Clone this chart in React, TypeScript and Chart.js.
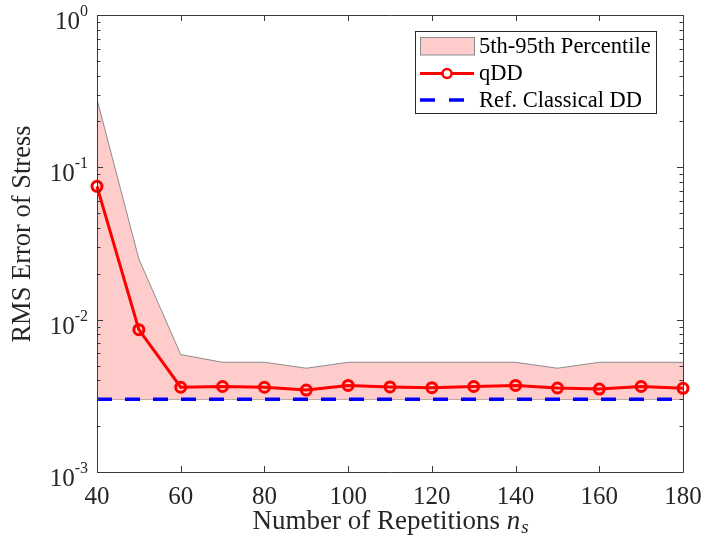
import React, { useEffect, useRef } from "react";
import { Chart, registerables } from "chart.js";

Chart.register(...registerables);

const reps = [40, 50, 60, 70, 80, 90, 100, 110, 120, 130, 140, 150, 160, 170, 180];
const qdd = [0.075, 0.0086, 0.0036, 0.00364, 0.0036, 0.00345, 0.0037, 0.00362, 0.00358, 0.00364, 0.0037, 0.00356, 0.0035, 0.00364, 0.00354];
const p95 = [0.28, 0.025, 0.0059, 0.00525, 0.00525, 0.0048, 0.00525, 0.00525, 0.00525, 0.00525, 0.00525, 0.0048, 0.00525, 0.00525, 0.00525];
const p5 = [0.003, 0.003, 0.003, 0.003, 0.003, 0.003, 0.003, 0.003, 0.003, 0.003, 0.003, 0.003, 0.003, 0.003, 0.003];
const refDD = [0.003, 0.003, 0.003, 0.003, 0.003, 0.003, 0.003, 0.003, 0.003, 0.003, 0.003, 0.003, 0.003, 0.003, 0.003];

const xTicks = [40, 60, 80, 100, 120, 140, 160, 180];
const yTicks = [0.001, 0.01, 0.1, 1];
const yTickExp = ["-3", "-2", "-1", "0"];

const legendLabels = ["5th-95th Percentile", "qDD", "Ref. Classical DD"];
const xTitle = "Number of Repetitions ";
const yTitle = "RMS Error of Stress";

const FONT = "'Liberation Serif', 'Times New Roman', serif";
const AXIS = "#3a3a3a";

const decorPlugin = {
  id: "decor",
  afterDraw(chart: any) {
    const ctx = chart.ctx as CanvasRenderingContext2D;
    const a = chart.chartArea;
    const xs = chart.scales.x;
    const ys = chart.scales.y;
    ctx.save();
    // box
    ctx.strokeStyle = AXIS;
    ctx.lineWidth = 1;
    ctx.beginPath();
    ctx.rect(Math.round(a.left) + 0.5, Math.round(a.top) + 0.5, Math.round(a.right - a.left), Math.round(a.bottom - a.top));
    ctx.stroke();
    // x ticks
    ctx.beginPath();
    for (const v of xTicks) {
      const px = Math.round(xs.getPixelForValue(v)) + 0.5;
      ctx.moveTo(px, a.bottom);
      ctx.lineTo(px, a.bottom - 6);
      ctx.moveTo(px, a.top);
      ctx.lineTo(px, a.top + 6);
    }
    // y ticks major + minor
    for (let d = 0; d < yTicks.length; d++) {
      const base = yTicks[d];
      const py = Math.round(ys.getPixelForValue(base)) + 0.5;
      ctx.moveTo(a.left, py);
      ctx.lineTo(a.left + 6, py);
      ctx.moveTo(a.right, py);
      ctx.lineTo(a.right - 6, py);
      if (d < yTicks.length - 1) {
        for (let m = 2; m <= 9; m++) {
          const pm = Math.round(ys.getPixelForValue(base * m)) + 0.5;
          ctx.moveTo(a.left, pm);
          ctx.lineTo(a.left + 3.5, pm);
          ctx.moveTo(a.right, pm);
          ctx.lineTo(a.right - 3.5, pm);
        }
      }
    }
    ctx.stroke();

    // x tick labels
    ctx.fillStyle = "#262626";
    ctx.font = `25px ${FONT}`;
    ctx.textAlign = "center";
    ctx.textBaseline = "middle";
    for (const v of xTicks) {
      ctx.fillText(String(v), xs.getPixelForValue(v), a.bottom + 25);
    }
    // y tick labels with superscript
    for (let i = 0; i < yTicks.length; i++) {
      const py = ys.getPixelForValue(yTicks[i]);
      const right = a.left - 9;
      ctx.textAlign = "right";
      ctx.textBaseline = "alphabetic";
      ctx.font = `16px ${FONT}`;
      const sup = yTickExp[i];
      const sw = ctx.measureText(sup).width;
      ctx.fillText(sup, right, py + 1);
      ctx.font = `25px ${FONT}`;
      ctx.fillText("10", right - sw, py + 14);
    }
    // x title
    const XT = 27;
    ctx.font = `${XT}px ${FONT}`;
    ctx.textAlign = "left";
    ctx.textBaseline = "alphabetic";
    const tw = ctx.measureText(xTitle).width;
    ctx.font = `italic ${XT}px ${FONT}`;
    const nw = ctx.measureText("n").width;
    ctx.font = `italic 19px ${FONT}`;
    const sw2 = ctx.measureText("s").width;
    const total = tw + nw + sw2;
    const cx = (a.left + a.right) / 2;
    let x0 = cx - total / 2;
    const by = a.bottom + 57;
    ctx.font = `${XT}px ${FONT}`;
    ctx.fillText(xTitle, x0, by);
    x0 += tw;
    ctx.font = `italic ${XT}px ${FONT}`;
    ctx.fillText("n", x0, by);
    x0 += nw;
    ctx.font = `italic 19px ${FONT}`;
    ctx.fillText("s", x0 + 1, by + 4);
    // y title
    ctx.save();
    ctx.translate(23, 234);
    ctx.rotate(-Math.PI / 2);
    ctx.font = `26.5px ${FONT}`;
    ctx.textAlign = "center";
    ctx.textBaseline = "middle";
    ctx.fillText(yTitle, 0, 0);
    ctx.restore();

    // legend
    const lx = 415.5, ly = 31.5, lw = 241, lh = 82;
    ctx.fillStyle = "#ffffff";
    ctx.fillRect(lx, ly, lw, lh);
    ctx.strokeStyle = "#262626";
    ctx.lineWidth = 1;
    ctx.strokeRect(lx, ly, lw, lh);
    const rows = [46.5, 73.5, 100];
    // patch
    ctx.fillStyle = "#ffcccc";
    ctx.fillRect(420, 37.5, 54, 17.5);
    ctx.strokeStyle = "#8c8c8c";
    ctx.strokeRect(420.5, 37.5, 54, 17.5);
    // qDD
    ctx.strokeStyle = "#ff0000";
    ctx.lineWidth = 3;
    ctx.beginPath();
    ctx.moveTo(420, rows[1]);
    ctx.lineTo(474, rows[1]);
    ctx.stroke();
    ctx.beginPath();
    ctx.arc(447, rows[1], 4.5, 0, Math.PI * 2);
    ctx.fillStyle = "#ffffff";
    ctx.fill();
    ctx.lineWidth = 2.5;
    ctx.stroke();
    // ref
    ctx.strokeStyle = "#0000ff";
    ctx.lineWidth = 3.5;
    ctx.setLineDash([15, 14]);
    ctx.beginPath();
    ctx.moveTo(420, rows[2]);
    ctx.lineTo(474, rows[2]);
    ctx.stroke();
    ctx.setLineDash([]);
    ctx.fillStyle = "#000000";
    ctx.font = `22.5px ${FONT}`;
    ctx.textAlign = "left";
    ctx.textBaseline = "middle";
    for (let i = 0; i < legendLabels.length; i++) {
      ctx.fillText(legendLabels[i], 479, rows[i] + 1);
    }
    ctx.restore();
  },
};

export default function App() {
  const ref = useRef<HTMLCanvasElement | null>(null);
  useEffect(() => {
    if (!ref.current) return;
    const pts = (arr: number[]) => reps.map((x, i) => ({ x, y: arr[i] }));
    const chart = new Chart(ref.current, {
      type: "line",
      data: {
        datasets: [
          {
            label: "p95",
            data: pts(p95),
            borderColor: "#8c8c8c",
            borderWidth: 1,
            backgroundColor: "#ffcccc",
            fill: "+1",
            pointRadius: 0,
            order: 3,
          },
          {
            label: "p5",
            data: pts(p5),
            borderColor: "#8c8c8c",
            borderWidth: 1,
            fill: false,
            pointRadius: 0,
            order: 3,
          },
          {
            label: "qDD",
            data: pts(qdd),
            borderColor: "#ff0000",
            borderWidth: 3,
            pointRadius: 5,
            pointBorderWidth: 3,
            pointBorderColor: "#ff0000",
            pointBackgroundColor: "rgba(0,0,0,0)",
            fill: false,
            clip: 10,
            order: 1,
          },
          {
            label: "Ref",
            data: pts(refDD),
            borderColor: "#0000ff",
            borderWidth: 3.5,
            borderDash: [15, 13],
            pointRadius: 0,
            fill: false,
            order: 0,
          },
        ],
      },
      options: {
        animation: false,
        responsive: false,
        events: [],
        layout: { padding: { left: 97, right: 21, top: 15, bottom: 67 } },
        plugins: { legend: { display: false }, tooltip: { enabled: false } },
        scales: {
          x: { type: "linear", min: 40, max: 180, display: false },
          y: { type: "logarithmic", min: 0.001, max: 1, display: false },
        },
      },
      plugins: [decorPlugin],
    });
    return () => chart.destroy();
  }, []);
  return (
    <div style={{ position: "fixed", left: 0, top: 0, width: 704, height: 539, background: "#fff" }}>
      <canvas ref={ref} width={704} height={539} style={{ display: "block" }} />
    </div>
  );
}
